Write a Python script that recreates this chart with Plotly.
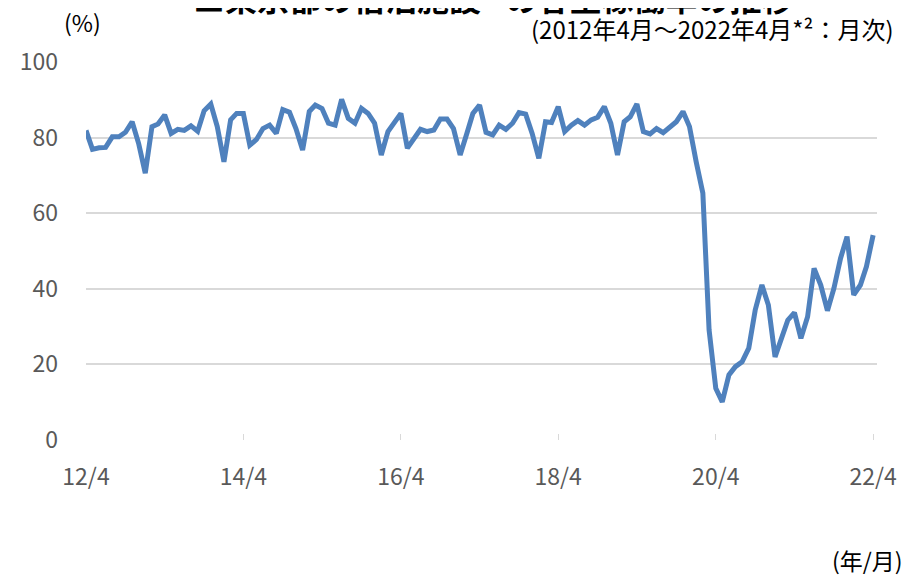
import pandas as pd
import plotly.graph_objects as go

# 東京都の宿泊施設 客室稼働率 (%), 2012/4 - 2022/4, monthly
MONTHS = pd.date_range("2012-04-01", "2022-04-01", freq="MS")
RATE = [
    81.9, 76.9, 77.3, 77.4, 80.2, 80.2, 81.4, 84.2, 78.5, 70.6,
    82.9, 83.6, 86.0, 81.1, 82.2, 81.9, 83.1, 81.7, 87.1, 88.9,
    82.9, 73.6, 84.7, 86.4, 86.4, 78.0, 79.5, 82.4, 83.3, 81.1,
    87.4, 86.7, 82.4, 76.7, 86.9, 88.6, 87.7, 83.8, 83.3, 90.1,
    85.1, 83.8, 87.7, 86.4, 83.8, 75.4, 81.6, 84.2, 86.4, 77.2,
    79.8, 82.2, 81.6, 82.0, 84.9, 84.9, 82.4, 75.4, 81.1, 86.4,
    88.6, 81.4, 80.7, 83.3, 82.2, 83.8, 86.6, 86.2, 81.1, 74.5,
    84.2, 84.0, 88.2, 81.6, 83.3, 84.5, 83.3, 84.7, 85.4, 88.2,
    83.8, 75.4, 84.2, 85.5, 88.9, 81.6, 81.0, 82.4, 81.3, 82.7,
    84.2, 86.9, 82.9, 73.6, 65.3, 29.1, 13.7, 10.1, 17.2, 19.4,
    20.7, 24.3, 34.4, 41.0, 35.7, 22.0, 27.3, 31.7, 33.7, 26.9,
    32.6, 45.4, 41.0, 34.2, 40.1, 48.1, 53.8, 38.4, 41.0, 45.9,
    54.2,
]
TICK_MONTHS = ["2012-04-01", "2014-04-01", "2016-04-01", "2018-04-01",
               "2020-04-01", "2022-04-01"]
TICK_TEXT = ["12/4", "14/4", "16/4", "18/4", "20/4", "22/4"]
Y_TICKS = [0, 20, 40, 60, 80, 100]

FONT = "Noto Sans CJK JP, Noto Sans, sans-serif"
GREY = "#595959"

fig = go.Figure(go.Scatter(
    x=MONTHS, y=RATE, mode="lines",
    line=dict(color="#4f81bd", width=5),
    hovertemplate="%{x|%Y/%m}: %{y:.1f}%<extra></extra>",
))

fig.update_xaxes(
    range=["2012-04-01", "2022-04-19"],
    tickvals=TICK_MONTHS, ticktext=TICK_TEXT,
    showgrid=False, zeroline=False,
    showline=False, ticks="inside", ticklen=6, tickcolor="#d9d9d9", tickwidth=1.3,
    ticklabelstandoff=21,
    tickfont=dict(size=23, color=GREY),
)
fig.update_yaxes(
    range=[0, 100], tickvals=Y_TICKS,
    showgrid=True, gridcolor="#d9d9d9", gridwidth=1.5,
    zeroline=False, showline=False,
    ticks="", ticklabelstandoff=27,
    tickfont=dict(size=23, color=GREY),
)

# page body adds an 8px offset, so the figure is 8px smaller and margins shifted
fig.update_layout(
    width=906, height=567,
    margin=dict(l=75, r=37, t=54, b=135),
    plot_bgcolor="white", paper_bgcolor="white",
    font=dict(family=FONT, color=GREY),
    showlegend=False,
    annotations=[
        dict(text="<b>■東京都の宿泊施設<sup>*1</sup>の客室稼働率の推移</b>",
             xref="paper", yref="paper", x=0.515, y=1.105,
             xanchor="center", yanchor="bottom", showarrow=False,
             font=dict(size=32, color="black")),
        dict(text="(%)", xref="paper", yref="paper", x=-0.004, y=1.105,
             xanchor="center", yanchor="middle", showarrow=False,
             font=dict(size=23, color="black")),
        dict(text="(2012年4月～2022年4月*²：月次)", xref="paper", yref="paper",
             x=1.024, y=1.088, xanchor="right", yanchor="middle", showarrow=False,
             font=dict(size=24, color="black")),
        dict(text="(年/月)", xref="paper", yref="paper", x=1.035, y=-0.317,
             xanchor="right", yanchor="middle", showarrow=False,
             font=dict(size=23, color="black")),
    ],
)

fig.write_html("out.html")
